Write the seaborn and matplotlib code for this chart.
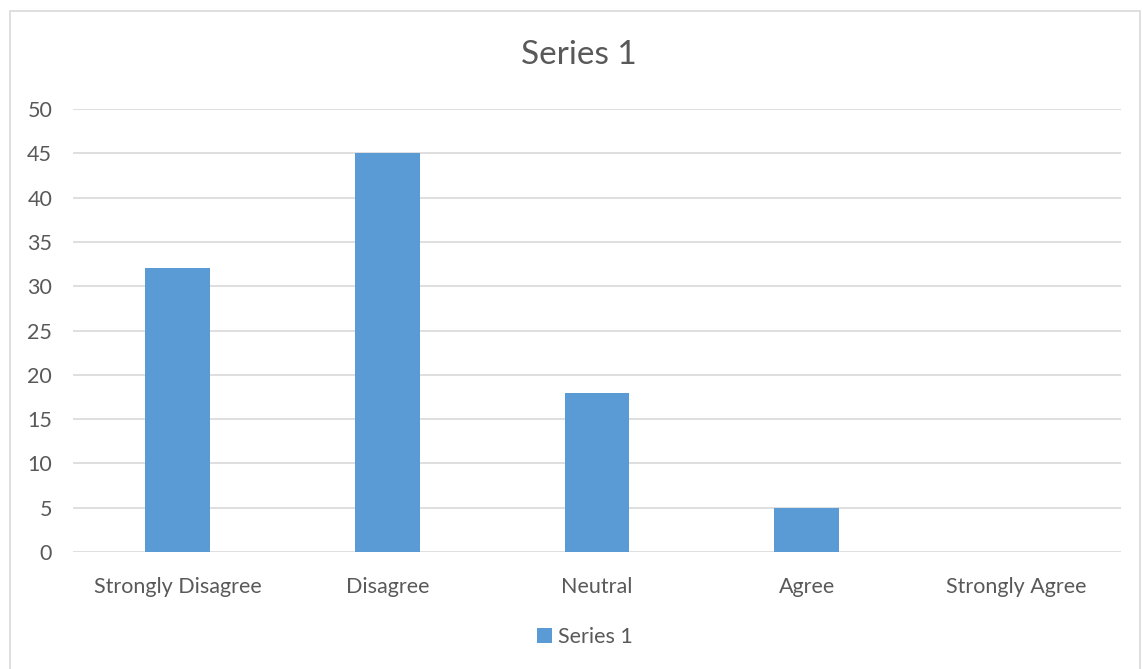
import matplotlib
matplotlib.use("Agg")
import matplotlib.pyplot as plt
import seaborn as sns
import pandas as pd
from matplotlib.patches import Rectangle

categories = ["Strongly Disagree", "Disagree", "Neutral", "Agree", "Strongly Agree"]
values = [32, 45, 18, 5, 0]
series_name = "Series 1"

df = pd.DataFrame({"category": categories, "value": values})

sns.set_style("white")
plt.rcParams['font.family'] = ['Lato', 'DejaVu Sans']
text_color = "#595959"
bar_color = "#5b9bd5"

fig = plt.figure(figsize=(11.42, 6.69), dpi=100)
ax = fig.add_axes([73/1142, 1 - 552/669, (1121 - 73)/1142, (552 - 109)/669])

sns.barplot(data=df, x="category", y="value", color=bar_color, width=0.31,
            saturation=1, ax=ax, label=series_name, zorder=3, linewidth=0)

ax.set_ylim(0, 50)
ax.set_yticks(range(0, 51, 5))
ax.set_xlim(-0.5, len(categories) - 0.5)
ax.yaxis.grid(True, color="#d9d9d9", linewidth=1.2, zorder=0)
ax.set_axisbelow(True)
for s in ax.spines.values():
    s.set_visible(False)
ax.tick_params(axis="both", length=0, labelsize=15.5, colors=text_color)
ax.tick_params(axis="y", pad=15)
ax.tick_params(axis="x", pad=18)
ax.set_xlabel("")
ax.set_ylabel("")

fig.text(579/1142, 1 - 55/669, series_name, ha="center", va="center",
         fontsize=24, color=text_color)

leg = ax.legend(loc="center", bbox_to_anchor=(585/1142, 1 - 637/669),
                bbox_transform=fig.transFigure, frameon=False, fontsize=15.5,
                handlelength=0.7, handleheight=0.7, handletextpad=0.3)
for t in leg.get_texts():
    t.set_color(text_color)

fig.patches.append(Rectangle((9.5/1142, -0.01), (1140 - 9.5)/1142, 1 - 10.5/669 + 0.01,
                             transform=fig.transFigure, fill=False,
                             edgecolor="#d9d9d9", linewidth=1.2))

fig.savefig("out.png", dpi=100, facecolor="white")
